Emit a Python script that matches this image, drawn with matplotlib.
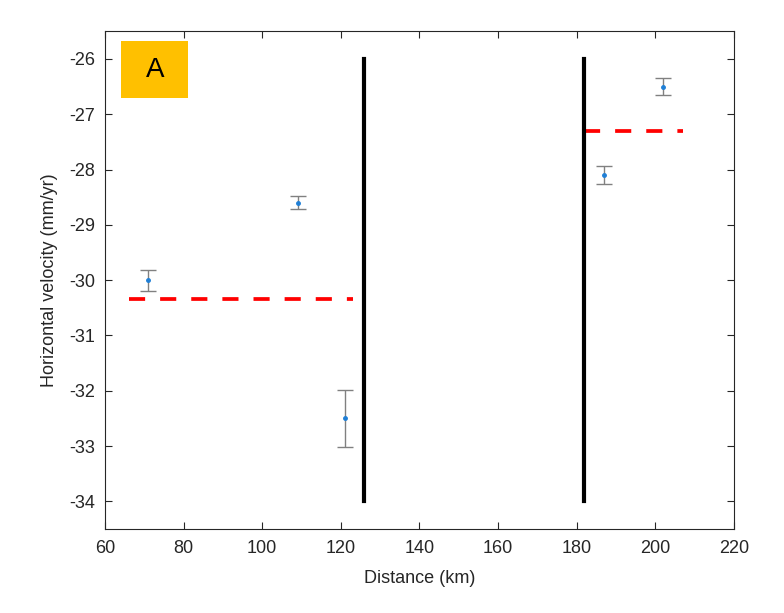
import matplotlib
matplotlib.use("Agg")
import matplotlib.pyplot as plt
from matplotlib.patches import Rectangle

plt.rcParams['font.family'] = ['Liberation Sans', 'DejaVu Sans']
plt.rcParams['axes.unicode_minus'] = False

# station data
dist = [71, 109, 121, 187, 202]
vel = [-30.0, -28.6, -32.5, -28.1, -26.5]
err = [0.19, 0.12, 0.52, 0.16, 0.15]

# mean velocity on either side
mean_left_x = [66, 123]
mean_left_y = [-30.35, -30.35]
mean_right_x = [182, 207]
mean_right_y = [-27.3, -27.3]

# fault positions
faults = [126, 182]
fault_top = -26
fault_bottom = -34

fig = plt.figure(figsize=(7.84, 6.13), dpi=100)
ax = fig.add_axes([0.134, 0.137, 0.802, 0.812])

ax.errorbar(dist, vel, yerr=err, fmt='.', color='#1f7fd6', markersize=5,
            ecolor='#808080', elinewidth=1, capsize=6, capthick=1)

dash = (0, (4.3, 4.0))
ax.plot(mean_left_x, mean_left_y, color='red', linestyle=dash, linewidth=2.7)
ax.plot(mean_right_x, mean_right_y, color='red', linestyle=dash, linewidth=2.7)

for fx in faults:
    ax.plot([fx, fx], [fault_top, fault_bottom], color='black', linewidth=3)

ax.set_xlim(60, 220)
ax.set_ylim(-34.5, -25.5)
ax.set_xticks(range(60, 221, 20))
ax.set_yticks(range(-34, -25))
ax.tick_params(direction='in', top=True, right=True, labelsize=13, colors='#262626', length=5)
ax.tick_params(axis='x', pad=8)
ax.tick_params(axis='y', pad=7)
for s in ax.spines.values():
    s.set_color('#262626')
    s.set_linewidth(0.8)
ax.set_xlabel('Distance (km)', fontsize=13, color='#262626', labelpad=9)
ax.set_ylabel('Horizontal velocity (mm/yr)', fontsize=13, color='#262626', labelpad=8)

# panel label
ax.add_patch(Rectangle((0.026, 0.866), 0.106, 0.115, transform=ax.transAxes,
                       facecolor='#FFC000', edgecolor='none'))
ax.text(0.079, 0.922, 'A', transform=ax.transAxes, fontsize=20,
        ha='center', va='center', color='black')

fig.savefig('out.png', dpi=100)
